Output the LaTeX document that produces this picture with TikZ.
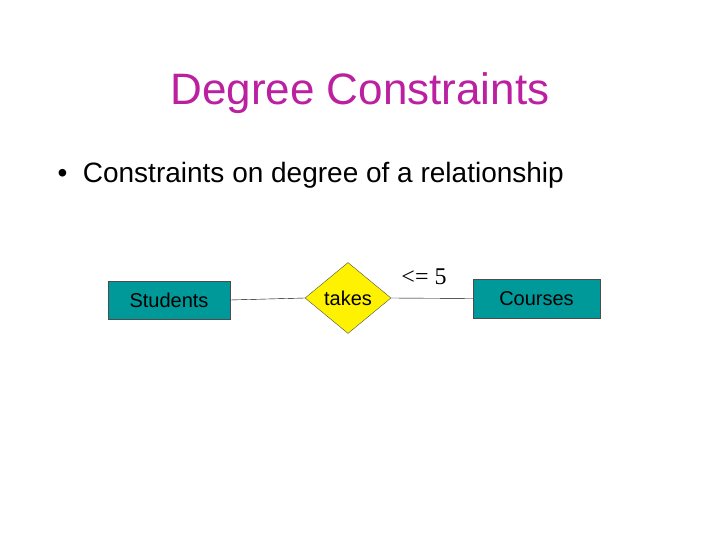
\documentclass[tikz,border=0pt]{standalone}
\usepackage{fontspec}
\setmainfont{Liberation Sans}
\newfontfamily\serif{Liberation Serif}
\usetikzlibrary{shapes.geometric}
\definecolor{titlec}{RGB}{187,32,160}
\definecolor{teal}{RGB}{0,153,153}
\begin{document}
\begin{tikzpicture}[x=1pt,y=-1pt,
  entity/.style={draw=black!70,fill=teal,inner sep=0,font=\fontsize{20}{24}\selectfont},
  rel/.style={diamond,draw=black!70,fill=yellow,inner sep=0,minimum width=86,minimum height=71,aspect=1.2,font=\fontsize{20}{24}\selectfont}]
\useasboundingbox (0,0) rectangle (720,540);
\node[text=titlec,font=\fontsize{44}{52}\selectfont] (title) at (360,93) {Degree Constraints};
\node[anchor=west,font=\fontsize{28}{33}\selectfont] (bullet) at (54,175) {\textbullet\ \ Constraints on degree of a relationship};
\node[entity,minimum width=122,minimum height=38] (s) at (169,300) {Students};
\node[rel] (t) at (348,298) {takes};
\node[entity,minimum width=127,minimum height=39] (c) at (536.5,298.5) {Courses};
\draw (s.east) -- (t.west);
\draw (t.east) -- (c.west);
\node[font=\serif\fontsize{24}{28}\selectfont] (lab) at (424,277) {<= 5};
\end{tikzpicture}
\end{document}
